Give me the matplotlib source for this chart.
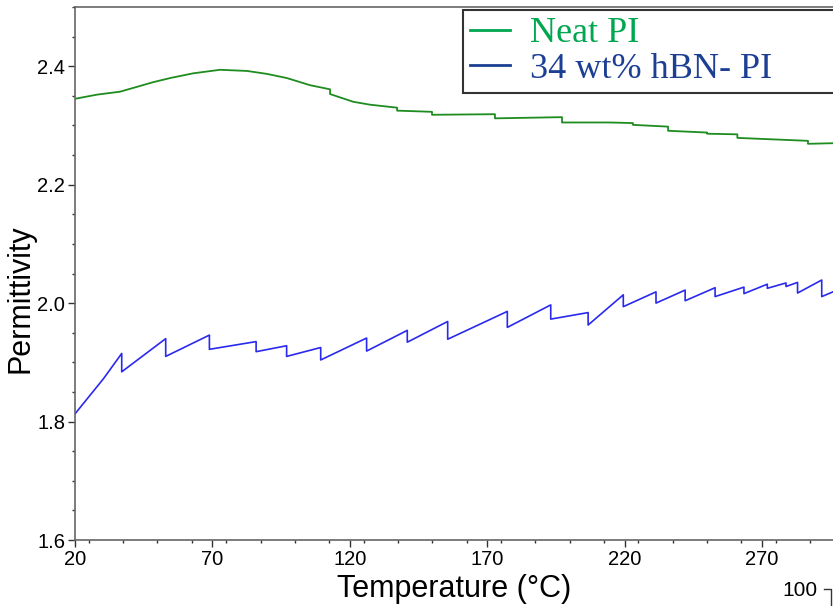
import matplotlib
matplotlib.use('Agg')
import matplotlib.pyplot as plt
from matplotlib.lines import Line2D
from matplotlib.ticker import MultipleLocator

# Neat PI (green); repeated x = small steps in the trace
neat_t = [20, 28.0, 36.4, 48.4, 54.6, 63.0, 72.8, 82.6, 89.9, 97.1, 105.5, 112.8, 112.8,
          121.2, 127.4, 137.2, 137.2, 149.9, 149.9, 172.8, 172.8, 197.2, 197.2, 214.7,
          223.0, 223.0, 235.8, 235.8, 250.0, 250.0, 261.0, 261.0, 286.7, 286.7, 295.8]
neat_p = [2.345, 2.352, 2.357, 2.373, 2.380, 2.388, 2.394, 2.392, 2.387, 2.380, 2.368,
          2.361, 2.353, 2.340, 2.335, 2.330, 2.325, 2.323, 2.318, 2.319, 2.312, 2.314,
          2.305, 2.305, 2.304, 2.301, 2.298, 2.291, 2.288, 2.286, 2.285, 2.279, 2.274,
          2.269, 2.270]

# 34 wt% hBN-PI (blue), saw-tooth trace
hbn_t = [20, 30.3, 37.0, 37.0, 53.0, 53.0, 68.9, 68.9, 85.9, 85.9, 97.0, 97.0,
         109.4, 109.4, 126.1, 126.1, 140.9, 140.9, 155.6, 155.6, 177.3, 177.3,
         193.1, 193.1, 206.7, 206.7, 219.5, 219.5, 231.4, 231.4, 242.0, 242.0,
         252.9, 252.9, 263.4, 263.4, 271.9, 271.9, 278.7, 278.7, 282.9, 282.9,
         291.7, 291.7, 295.8]
hbn_p = [1.813, 1.872, 1.915, 1.884, 1.940, 1.910, 1.946, 1.922, 1.935, 1.918, 1.928, 1.910,
         1.925, 1.904, 1.941, 1.919, 1.954, 1.934, 1.969, 1.939, 1.986, 1.959,
         1.997, 1.973, 1.984, 1.963, 2.014, 1.994, 2.019, 2.000, 2.022, 2.004,
         2.026, 2.011, 2.027, 2.016, 2.032, 2.025, 2.034, 2.028, 2.035, 2.017,
         2.039, 2.011, 2.019]

labels = ['Neat PI', '34 wt% hBN- PI']
x_ticks = [20, 70, 120, 170, 220, 270]
y_ticks = [1.6, 1.8, 2.0, 2.2, 2.4]

W, H = 833, 606
fig = plt.figure(figsize=(W / 100, H / 100), dpi=100)
ax = fig.add_axes([75 / W, (H - 540) / H, 1 - 75 / W, (540 - 7) / H])

ax.plot(neat_t, neat_p, color='#1e8c1e', lw=1.3)
ax.plot(hbn_t, hbn_p, color='#2a2aee', lw=1.2)

ax.set_xlim(20, 295.8)
ax.set_ylim(1.6, 2.5)
ax.set_xticks(x_ticks)
ax.set_yticks(y_ticks)
ax.set_yticklabels(['%.1f' % v for v in y_ticks])
ax.xaxis.set_minor_locator(MultipleLocator(12.5))
ax.yaxis.set_minor_locator(MultipleLocator(0.05))

for lab in ax.get_xticklabels() + ax.get_yticklabels():
    lab.set_fontfamily('Liberation Sans')
    lab.set_fontsize(14.5)
ax.tick_params(which='major', length=5, width=1, color='#333333', pad=2)
ax.tick_params(which='minor', length=2.5, width=1, color='#333333')

for s in ['left', 'bottom', 'top']:
    ax.spines[s].set_color('#666666')
    ax.spines[s].set_linewidth(1.2)
ax.spines['right'].set_visible(False)

ax.set_xlabel('Temperature (°C)', fontfamily='Liberation Sans', fontsize=22, labelpad=4)
ax.set_ylabel('Permittivity', fontfamily='Liberation Sans', fontsize=22)
ax.yaxis.set_label_coords(-0.052, 0.452)

handles = [Line2D([], [], color='#00a650', lw=2),
           Line2D([], [], color='#1c3f94', lw=2)]
leg = ax.legend(handles, labels, loc='upper left',
                bbox_to_anchor=(463 / W, 1 - 92 / H, 420 / W, 82 / H),
                bbox_transform=fig.transFigure, mode='expand',
                prop={'family': 'Liberation Serif', 'size': 26},
                labelcolor=['#00a650', '#1c3f94'], frameon=True, fancybox=False,
                framealpha=1, edgecolor='#333333', handlelength=1.1,
                handletextpad=0.55, labelspacing=0.05, borderpad=0.2, borderaxespad=0)
leg.get_frame().set_linewidth(1.5)

# leftover of a second axis at the lower right corner
fig.text(818 / W, 1 - 590 / H, '100', ha='right', va='center',
         fontfamily='Liberation Sans', fontsize=15)
fig.add_artist(Line2D([824 / W, 831 / W, 831 / W], [1 - 589 / H, 1 - 589 / H, 0],
                      transform=fig.transFigure, color='#333333', lw=1))

fig.savefig('out.png', dpi=100)
